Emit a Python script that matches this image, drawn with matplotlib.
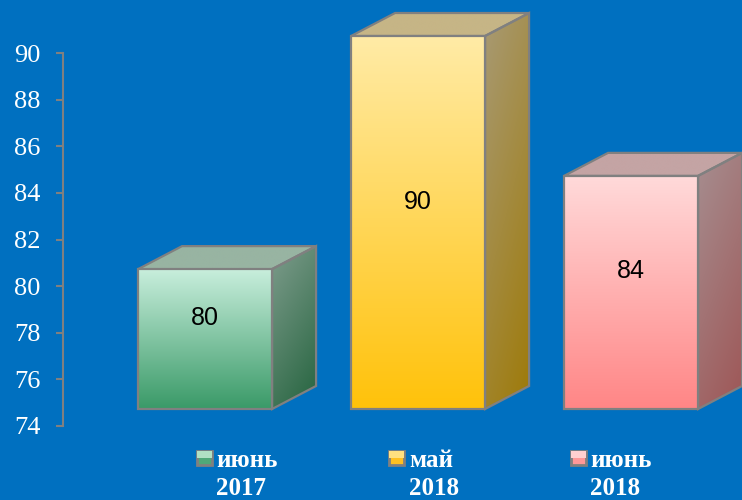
import numpy as np
import matplotlib
matplotlib.use('Agg')
import matplotlib.pyplot as plt
from matplotlib.patches import Polygon, Rectangle
from matplotlib.colors import to_rgb

# data
months = ['июнь', 'май', 'июнь']
years = ['2017', '2018', '2018']
values = [80, 90, 84]
yticks = [74, 76, 78, 80, 82, 84, 86, 88, 90]

# colours per bar: front top/bottom, side top/bottom, top face, legend swatch
front_c = [('#C8EEDC', '#3A9A68'), ('#FFEBA6', '#FFC20A'), ('#FFDADA', '#FF8686')]
side_c = [('#7E9C8C', '#25643F'), ('#A89A74', '#9E7A08'), ('#A68E90', '#9E5656')]
top_c = ['#98B4A2', '#C6B586', '#C4A4A4']
swatch_c = [('#B0E0C4', '#50A878'), ('#FFE080', '#FFC020'), ('#FFD0D0', '#FF9898')]

W, H = 742, 500
BG = '#0070C0'
EDGE = '#808080'

fig = plt.figure(figsize=(W / 100, H / 100), dpi=100)
fig.patch.set_facecolor(BG)

# axes: y=74 at 426px from top, y=90 at 53px
px_y = (426 - 53) / 16.0
ax = fig.add_axes([63 / W, (H - 426) / H, (W - 63) / W, 426 / H])
ax.set_facecolor('none')
xmin = -0.667
px_x = 213.0
xmax = xmin + (W - 63) / px_x
ymin, ymax = 74, 74 + 426 / px_y

width = 134 / px_x
dx = 44 / px_x
dy = 23 / px_y
lift = 17 / px_y


def shade(verts, c1, c2, tilt=0.0, z=2):
    verts = np.array(verts)
    poly = Polygon(verts, closed=True, facecolor='none', edgecolor=EDGE,
                   lw=1.6, zorder=z + 0.5, joinstyle='miter')
    ax.add_patch(poly)
    x0, y0 = verts.min(0)
    x1, y1 = verts.max(0)
    yy, xx = np.mgrid[0:1:120j, 0:1:120j]
    t = np.clip(yy * (1 - tilt) + xx * tilt, 0, 1)
    a = np.array(to_rgb(c1))
    b = np.array(to_rgb(c2))
    img = a + (b - a) * t[..., None]
    im = ax.imshow(img, extent=(x0, x1, y0, y1), origin='upper',
                   aspect='auto', zorder=z, interpolation='bilinear')
    im.set_clip_path(poly)


for i, v in enumerate(values):
    xl = i - width / 2
    xr = i + width / 2
    base = ymin + lift
    top = v + lift
    # side face
    shade([(xr, base), (xr + dx, base + dy), (xr + dx, top + dy), (xr, top)],
          side_c[i][0], side_c[i][1], tilt=0.3)
    # top face
    shade([(xl, top), (xl + dx, top + dy), (xr + dx, top + dy), (xr, top)],
          top_c[i], top_c[i])
    # front face
    shade([(xl, base), (xr, base), (xr, top), (xl, top)],
          front_c[i][0], front_c[i][1], z=3)
    ax.text(i, (base + top) / 2 + 0.9, str(v), ha='center', va='center',
            fontsize=18, family='Liberation Sans', color='black', zorder=5)

ax.set_xlim(xmin, xmax)
ax.set_ylim(ymin, ymax)
ax.set_xticks([])
ax.set_yticks(yticks)
ax.set_yticklabels([str(t) for t in yticks], family='Liberation Serif',
                   fontsize=19, color='white')
ax.tick_params(axis='y', direction='out', length=5, width=1.5, color=EDGE, pad=11)
for s in ['top', 'right', 'bottom']:
    ax.spines[s].set_visible(False)
ax.spines['left'].set_color(EDGE)
ax.spines['left'].set_linewidth(1.5)
ax.spines['left'].set_bounds(74, 90)

# legend-like category labels
sw_x = [197, 389, 571]
tx_x = [216, 409, 590]
for i in range(len(values)):
    r = Rectangle((sw_x[i] / W, 1 - 465 / H), 15 / W, 14 / H,
                  transform=fig.transFigure, facecolor=swatch_c[i][1],
                  edgecolor=EDGE, lw=2)
    fig.patches.append(r)
    r2 = Rectangle((sw_x[i] / W, 1 - 458 / H), 15 / W, 7 / H,
                   transform=fig.transFigure, facecolor=swatch_c[i][0],
                   edgecolor='none', lw=0)
    fig.patches.append(r2)
    fig.text(tx_x[i] / W, 1 - 467 / H, months[i], ha='left', va='baseline',
             family='Liberation Serif', fontweight='bold', fontsize=18, color='white')
    fig.text(tx_x[i] / W, 1 - 495 / H, years[i], ha='left', va='baseline',
             family='Liberation Serif', fontweight='bold', fontsize=18, color='white')

fig.savefig('out.png', dpi=100, facecolor=BG)
